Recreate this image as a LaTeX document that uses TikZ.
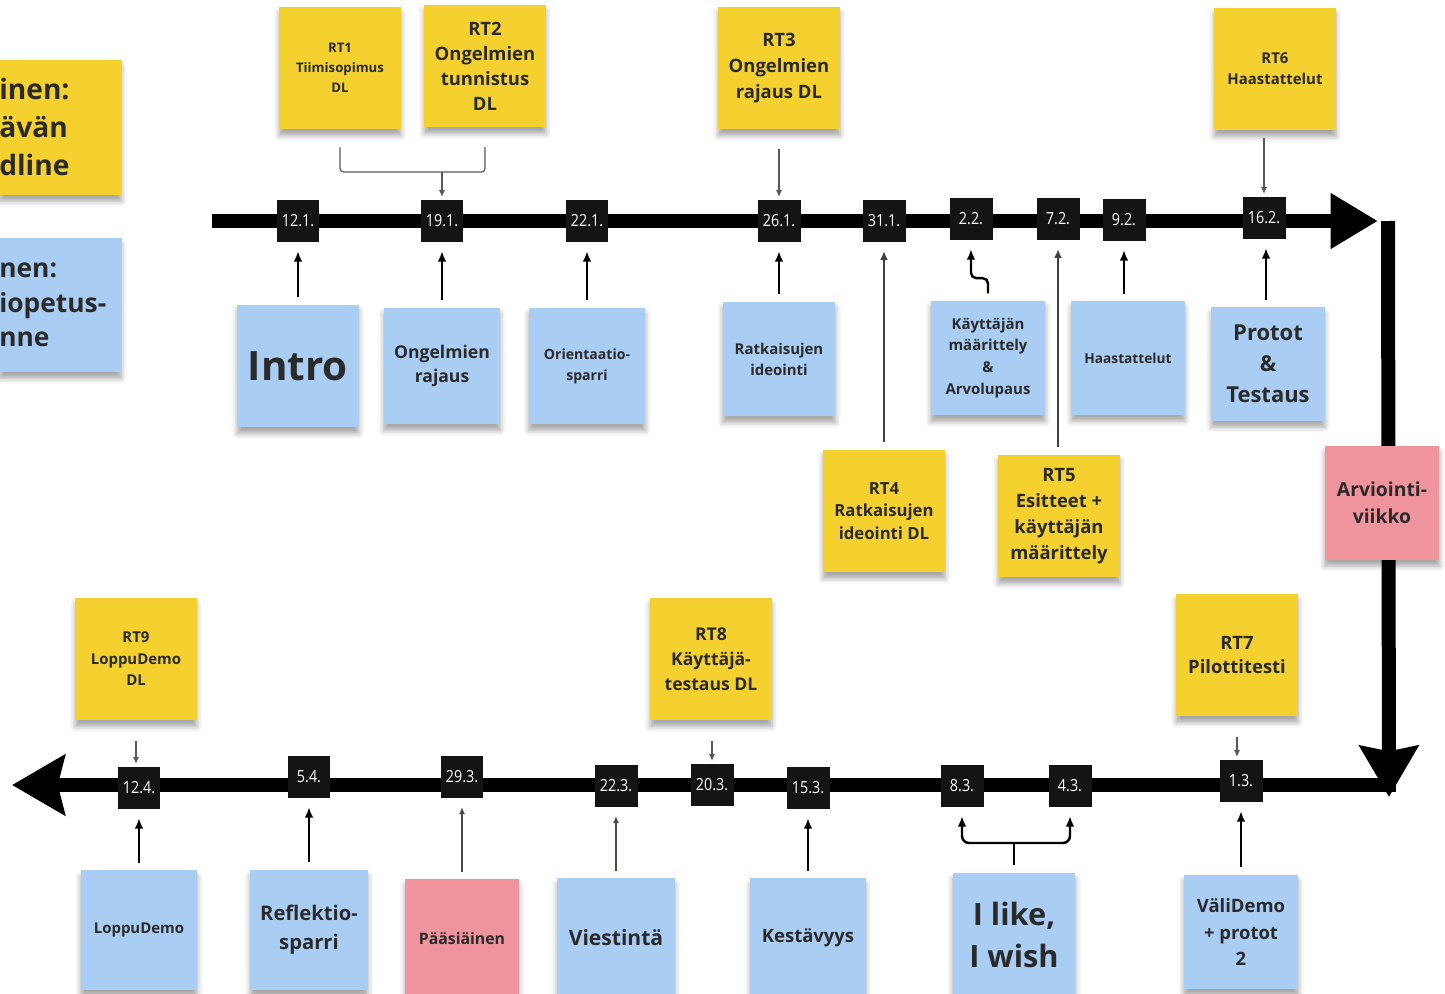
\documentclass[tikz,border=0pt]{standalone}
\usepackage{fontspec}
\setmainfont{Open Sans}
\newfontfamily\datefont{Open Sans}[FakeStretch=0.86]
\usetikzlibrary{arrows.meta,shadows.blur}
\definecolor{stickyyellow}{HTML}{F4D12E}
\definecolor{stickyblue}{HTML}{A9CDF3}
\definecolor{stickypink}{HTML}{EF939C}
\definecolor{ink}{HTML}{2A2A2A}

\begin{document}
\begin{tikzpicture}[
		x=0.02cm, y=-0.02cm,
		sz/.style 2 args={font=\bfseries\fontsize{#1}{#2}\selectfont},
		notebox/.style={minimum width=2.34cm, minimum height=2.34cm, align=center,
				text=ink, inner sep=1pt,
				blur shadow={shadow xshift=0pt, shadow yshift=-3.5pt, shadow blur radius=3pt, shadow opacity=35}},
		ynote/.style={notebox, fill=stickyyellow, minimum width=2.44cm, minimum height=2.46cm},
		bnote/.style={notebox, fill=stickyblue},
		pnote/.style={notebox, fill=stickypink},
		datebox/.style={fill=black!92, text=white, minimum width=0.86cm, minimum height=0.84cm,
				inner sep=0pt, font=\datefont\fontsize{9.5}{10}\selectfont},
		timeline/.style={line width=0.28cm},
		uparrow/.style={-{Latex[length=6pt,width=5pt]}, line width=1.4pt, shorten <=3.8pt, shorten >=5pt},
		midarrow/.style={-{Latex[length=5pt,width=4.5pt]}, draw=black!75, line width=1.1pt, shorten <=3.8pt, shorten >=5pt},
		thinarrow/.style={-{Latex[length=4pt,width=3.5pt]}, draw=black!70, line width=0.6pt, shorten <=3.8pt, shorten >=5pt},
		dlarrow/.style={-{Latex[length=4pt,width=3.5pt]}, draw=black!65, line width=0.7pt, shorten >=1.5pt},
	]
	\useasboundingbox (0,0) rectangle (1445,994);

	% timeline
	\coordinate (ta) at (212,221);
	\coordinate (tb) at (1378,221);
	\coordinate (va) at (1388,221);
	\coordinate (vb) at (1389,797);
	\coordinate (ba) at (1396,785);
	\coordinate (bb) at (12,785);
	\draw[timeline, -{Triangle[length=27pt,width=30pt]}] (ta) -- (tb);
	\draw[timeline, -{Stealth[length=29pt,width=33pt,inset=3pt]}] (va) -- (vb);
	\draw[timeline, -{Stealth[length=30pt,width=34pt,inset=4pt]}] (ba) -- (bb);

	% dates
	\node[datebox] (d121) at (298,221) {12.1.};
	\node[datebox] (d191) at (442,221) {19.1.};
	\node[datebox] (d221) at (587,221) {22.1.};
	\node[datebox] (d261) at (779,221) {26.1.};
	\node[datebox] (d311) at (884,221) {31.1.};
	\node[datebox] (d22) at (971,219) {2.2.};
	\node[datebox] (d72) at (1058,219) {7.2.};
	\node[datebox] (d92) at (1124,220) {9.2.};
	\node[datebox] (d162) at (1264,218) {16.2.};
	\node[datebox] (d13) at (1241,781) {1.3.};
	\node[datebox] (d43) at (1070,786) {4.3.};
	\node[datebox] (d83) at (962,786) {8.3.};
	\node[datebox] (d153) at (808,788) {15.3.};
	\node[datebox] (d203) at (712,785) {20.3.};
	\node[datebox] (d223) at (616,786) {22.3.};
	\node[datebox] (d293) at (462,777) {29.3.};
	\node[datebox] (d54) at (309,777) {5.4.};
	\node[datebox] (d124) at (139,788) {12.4.};

	% left notes
	\node[ynote, minimum height=2.7cm, anchor=north east] (yleinen) at (122,60) {};
	\node[anchor=west, align=left, inner sep=0pt, text=ink, sz={16}{21.5}] (yleinentxt) at (-1,127) {inen:\\ävän\\dline};
	\node[bnote, minimum width=2.44cm, minimum height=2.68cm, anchor=north east] (opetus) at (122,238) {};
	\node[anchor=west, align=left, inner sep=0pt, text=ink, sz={15}{19.8}] (opetustxt) at (-1,305) {nen:\\iopetus-\\nne};

	% deadlines
	\node[ynote, sz={7.5}{11.3}] (rt1) at (340,68) {RT1\\Tiimisopimus\\DL};
	\node[ynote, sz={10.5}{14.2}] (rt2) at (485,66) {RT2\\Ongelmien\\tunnistus\\DL};
	\node[ynote, sz={10.5}{14.7}] (rt3) at (779,68) {RT3\\Ongelmien\\rajaus DL};
	\node[ynote, sz={8.5}{11.9}] (rt6) at (1275,69) {RT6\\Haastattelut};
	\node[ynote, sz={9.5}{13}] (rt4) at (884,511) {RT4\\Ratkaisujen\\ideointi DL};
	\node[ynote, sz={10.5}{14.7}] (rt5) at (1059,516) {RT5\\Esitteet +\\käyttäjän\\määrittely};
	\node[ynote, sz={8.5}{12.2}] (rt9) at (136,659) {RT9\\LoppuDemo\\DL};
	\node[ynote, sz={10}{14.2}] (rt8) at (711,659) {RT8\\Käyttäjä-\\testaus DL};
	\node[ynote, sz={10.5}{14.2}] (rt7) at (1237,655) {RT7\\Pilottitesti};

	% sessions
	\node[bnote, minimum width=2.44cm, minimum height=2.46cm, sz={23}{28}] (intro) at (298,366) {Intro};
	\node[bnote, sz={10}{13.6}] (ongrajaus) at (442,366) {Ongelmien\\rajaus};
	\node[bnote, sz={8}{12}] (orient) at (587,366) {Orientaatio-\\sparri};
	\node[bnote, minimum width=2.26cm, minimum height=2.3cm, sz={8.5}{12}] (ratkid) at (779,359) {Ratkaisujen\\ideointi};
	\node[bnote, minimum width=2.3cm, minimum height=2.3cm, sz={8.5}{12.4}] (kaymaar) at (988,358) {Käyttäjän\\määrittely\\\&\\Arvolupaus};
	\node[bnote, minimum width=2.28cm, minimum height=2.28cm, sz={7.8}{10}] (haast) at (1128,358) {Haastattelut};
	\node[bnote, minimum width=2.28cm, minimum height=2.28cm, sz={12.5}{17.6}] (protot) at (1268,364) {Protot\\\&\\Testaus};
	\node[pnote, minimum width=2.3cm, minimum height=2.28cm, sz={11}{15.3}] (arvio) at (1382,503) {Arviointi-\\viikko};
	\node[bnote, minimum height=2.4cm, sz={8.5}{11}] (loppudemo) at (139,930) {LoppuDemo};
	\node[bnote, minimum width=2.36cm, minimum height=2.42cm, sz={11.5}{16.4}] (reflektio) at (309,930) {Reflektio-\\sparri};
	\node[pnote, minimum width=2.28cm, minimum height=2.4cm, sz={9}{11}] (paasiainen) at (462,939) {Pääsiäinen};
	\node[bnote, minimum width=2.36cm, minimum height=2.4cm, sz={12}{14}] (viestinta) at (616,938) {Viestintä};
	\node[bnote, minimum width=2.32cm, minimum height=2.4cm, sz={10.5}{13}] (kestavyys) at (808,938) {Kestävyys};
	\node[bnote, minimum width=2.46cm, minimum height=2.5cm, sz={17.5}{24.4}] (ilike) at (1014,935) {I like,\\I wish};
	\node[bnote, minimum width=2.3cm, minimum height=2.3cm, sz={10.5}{15.3}] (validemo) at (1241,932) {VäliDemo\\+ protot\\2};

	% deadline connectors
	\coordinate (j191) at (442,172);
	\draw[draw=black!65, line width=0.7pt, rounded corners=2pt] ([yshift=-10pt]rt1.south) |- (j191) -| ([yshift=-11pt]rt2.south);
	\draw[dlarrow] (j191) -- (d191.north);
	\draw[dlarrow, shorten <=11pt] (rt3.south -| d261) -- (d261.north);
	\draw[dlarrow, shorten <=4pt] (rt6.south -| d162) -- (d162.north);
	\draw[dlarrow, shorten <=11.5pt] (rt9.south) -- (rt9.south |- d124.north);
	\draw[dlarrow, shorten <=11.5pt] (rt8.south -| d203) -- (d203.north);
	\draw[dlarrow, shorten <=11.5pt] (rt7.south) -- (rt7.south |- d13.north);
	\draw[midarrow] (rt4.north -| d311) -- (d311.south);
	\draw[midarrow] (rt5.north -| d72) -- (d72.south);

	% session connectors
	\draw[uparrow] (intro.north -| d121) -- (d121.south);
	\draw[uparrow] (ongrajaus.north -| d191) -- (d191.south);
	\draw[uparrow] (orient.north -| d221) -- (d221.south);
	\draw[uparrow] (ratkid.north -| d261) -- (d261.south);
	\draw[uparrow, rounded corners=3pt] (kaymaar.north) -- ++(0,-22) -| (d22.south);
	\draw[uparrow] (haast.north -| d92) -- (d92.south);
	\draw[uparrow] (protot.north -| 1266,0) -- (d162.south -| 1266,0);
	\draw[uparrow] (loppudemo.north -| d124) -- (d124.south);
	\draw[uparrow] (reflektio.north -| d54) -- (d54.south);
	\draw[thinarrow] (paasiainen.north -| d293) -- (d293.south);
	\draw[thinarrow] (viestinta.north -| d223) -- (d223.south);
	\draw[uparrow] (kestavyys.north -| d153) -- (d153.south);
	\coordinate (jlike) at (1014,843);
	\draw[line width=1.4pt, shorten <=3.8pt] (ilike.north) -- (jlike);
	\draw[uparrow, shorten <=0pt, rounded corners=4pt] (jlike) -| (d83.south);
	\draw[uparrow, shorten <=0pt, rounded corners=4pt] (jlike) -| (d43.south);
	\draw[uparrow] (validemo.north -| d13) -- (d13.south);
\end{tikzpicture}
\end{document}
